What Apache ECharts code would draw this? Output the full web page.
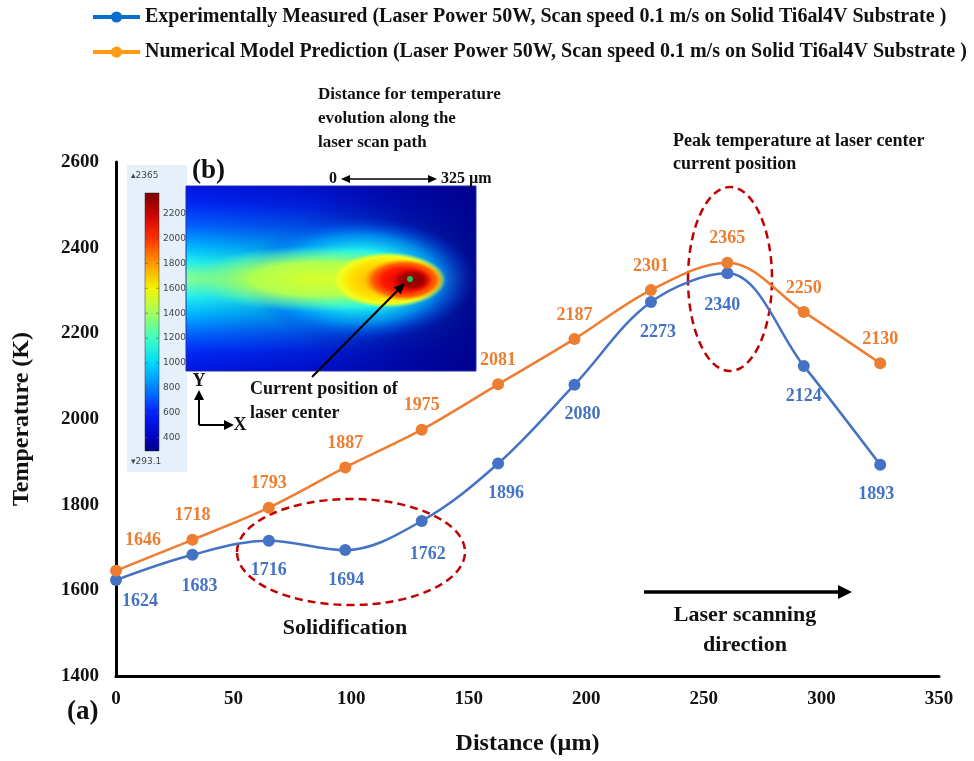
<!DOCTYPE html>
<html>
<head>
<meta charset="utf-8">
<script src="https://cdn.jsdelivr.net/npm/echarts@6/dist/echarts.min.js"></script>
<style>
  html, body { margin: 0; padding: 0; background: #fff; }
  #chart { width: 974px; height: 761px; }
</style>
</head>
<body>
<div id="chart"></div>
<script>
// distance along scan path (µm) and temperatures (K)
const distance = [0, 32.5, 65, 97.5, 130, 162.5, 195, 227.5, 260, 292.5, 325];
const measured = [1624, 1683, 1716, 1694, 1762, 1896, 2080, 2273, 2340, 2124, 1893];
const predicted = [1646, 1718, 1793, 1887, 1975, 2081, 2187, 2301, 2365, 2250, 2130];
const seriesNames = [
  'Experimentally Measured (Laser Power 50W, Scan speed 0.1 m/s on Solid Ti6al4V Substrate )',
  'Numerical Model Prediction (Laser Power 50W, Scan speed 0.1 m/s on Solid Ti6al4V Substrate )'
];
// inset colour bar
const colorbarTicks = [2200, 2000, 1800, 1600, 1400, 1200, 1000, 800, 600, 400];
const colorbarMax = 2365;
const colorbarMin = 293.1;

const SERIF = '"Liberation Serif", "Times New Roman", serif';
const BLUE = '#4472C4';
const ORANGE = '#ED7D31';

const chart = echarts.init(document.getElementById('chart'));

// small label nudges so numbers sit like the original
const blueShift = [[24, -9], [7, 2], [0, 0], [1, 0], [6, 3], [8, 0], [8, 0], [7, 0], [-5, 2], [0, 0], [-4, 0]];
const orangeShift = [[27, -6], [0, 0], [0, 0], [0, 0], [0, 0], [0, 0], [0, 0], [0, 0], [0, 0], [0, 0], [0, 0]];

function arrowHead(x, y, angle, len, half, color) {
  const c = Math.cos(angle), s = Math.sin(angle);
  return {
    type: 'polygon', silent: true,
    shape: { points: [[x, y], [x - len * c + half * s, y - len * s - half * c], [x - len * c - half * s, y - len * s + half * c]] },
    style: { fill: color }
  };
}
function arrow(x1, y1, x2, y2, width, len, half, both) {
  const ang = Math.atan2(y2 - y1, x2 - x1);
  const els = [{
    type: 'line', silent: true,
    shape: { x1: x1, y1: y1, x2: x2 - Math.cos(ang) * len * 0.8, y2: y2 - Math.sin(ang) * len * 0.8 },
    style: { stroke: '#000', lineWidth: width }
  }, arrowHead(x2, y2, ang, len, half, '#000')];
  if (both) {
    els[0].shape.x1 = x1 + Math.cos(ang) * len * 0.8;
    els[0].shape.y1 = y1 + Math.sin(ang) * len * 0.8;
    els.push(arrowHead(x1, y1, ang + Math.PI, len, half, '#000'));
  }
  return els;
}
function txt(x, y, text, size, opts) {
  opts = opts || {};
  return {
    type: 'text', silent: true, x: x, y: y,
    style: {
      text: text, font: (opts.weight || 'bold') + ' ' + size + 'px ' + (opts.family || SERIF),
      fill: opts.color || '#111',
      align: opts.align || 'left', textAlign: opts.align || 'left',
      verticalAlign: opts.va || 'middle', textVerticalAlign: opts.va || 'middle',
      lineHeight: opts.lh || size * 1.2
    }
  };
}
function glow(cx, cy, rx, ry, stops) {
  return {
    type: 'circle', silent: true, x: cx, y: cy, scaleX: rx / 50, scaleY: ry / 50,
    shape: { cx: 0, cy: 0, r: 50 },
    style: { fill: { type: 'radial', x: 0.5, y: 0.5, r: 0.5, colorStops: stops } }
  };
}
function ellipseMark(cx, cy, rx, ry) {
  return {
    type: 'ellipse', silent: true,
    shape: { cx: cx, cy: cy, rx: rx, ry: ry },
    style: { fill: null, stroke: '#C00000', lineWidth: 2.5, lineDash: [8, 5] }
  };
}

// inset (b): simulated temperature field
const inset = { x: 186, y: 186, w: 290, h: 185 };
const bar = { x: 145, y: 193, w: 14, h: 258 };
const barFrac = v => (colorbarMax - v) / (colorbarMax - colorbarMin);

const graphics = [
  { type: 'rect', silent: true, shape: { x: 127, y: 165, width: 60, height: 307 }, style: { fill: '#E6F0FA' } },
  {
    type: 'rect', silent: true, shape: { x: bar.x, y: bar.y, width: bar.w, height: bar.h },
    style: {
      fill: {
        type: 'linear', x: 0, y: 0, x2: 0, y2: 1, colorStops: [
          { offset: 0, color: '#7A0000' }, { offset: barFrac(2200), color: '#C80000' },
          { offset: barFrac(2000), color: '#FF3000' }, { offset: barFrac(1800), color: '#FF9800' },
          { offset: barFrac(1600), color: '#F4F400' }, { offset: barFrac(1400), color: '#A0FF60' },
          { offset: barFrac(1200), color: '#40FFC0' }, { offset: barFrac(1000), color: '#00D8FF' },
          { offset: barFrac(800), color: '#0080FF' }, { offset: barFrac(600), color: '#0020FF' },
          { offset: barFrac(400), color: '#0000C0' }, { offset: 1, color: '#000080' }
        ]
      }, stroke: '#333', lineWidth: 0.5
    }
  },
  txt(131, 176, '▴2365', 9, { weight: 'normal', family: '"DejaVu Sans", sans-serif', color: '#444' }),
  txt(131, 462, '▾293.1', 9, { weight: 'normal', family: '"DejaVu Sans", sans-serif', color: '#444' }),
  {
    type: 'rect', silent: true, shape: { x: inset.x, y: inset.y, width: inset.w, height: inset.h },
    style: {
      fill: {
        type: 'linear', x: 0, y: 0, x2: 0, y2: 1, colorStops: [
          { offset: 0, color: '#0014E0' }, { offset: 0.1, color: '#0028F4' },
          { offset: 0.22, color: '#0064FF' }, { offset: 0.33, color: '#00B8FF' },
          { offset: 0.41, color: '#20F0F0' }, { offset: 0.47, color: '#70FFA8' },
          { offset: 0.5, color: '#8CFF88' }, { offset: 0.53, color: '#70FFA8' },
          { offset: 0.6, color: '#20F0F0' }, { offset: 0.69, color: '#00B8FF' },
          { offset: 0.8, color: '#0064FF' }, { offset: 0.9, color: '#0028F4' },
          { offset: 1, color: '#0014E0' }
        ]
      }
    }
  },
  {
    type: 'rect', silent: true, shape: { x: inset.x, y: inset.y, width: inset.w, height: inset.h },
    style: {
      fill: {
        type: 'linear', x: 0, y: 0, x2: 1, y2: 0, colorStops: [
          { offset: 0, color: 'rgba(0,0,140,0)' }, { offset: 0.4, color: 'rgba(0,0,140,0.25)' },
          { offset: 0.75, color: 'rgba(0,0,140,0.75)' }, { offset: 1, color: 'rgba(0,0,140,0.97)' }
        ]
      }
    }
  },
  glow(360, 279, 115, 62, [
    { offset: 0, color: '#60FFB0' }, { offset: 0.45, color: '#20F0F0' },
    { offset: 0.7, color: 'rgba(0,170,255,0.75)' }, { offset: 1, color: 'rgba(0,60,255,0)' }
  ]),
  glow(318, 279, 132, 33, [
    { offset: 0, color: '#D8FF28' }, { offset: 0.5, color: '#B0FF50' },
    { offset: 0.8, color: 'rgba(110,255,150,0.5)' }, { offset: 1, color: 'rgba(60,255,200,0)' }
  ]),
  glow(388, 280, 58, 28, [
    { offset: 0, color: '#FFA000' }, { offset: 0.65, color: '#FFE000' },
    { offset: 0.85, color: '#F0FF20' }, { offset: 1, color: 'rgba(200,255,60,0)' }
  ]),
  glow(404, 280, 40, 21, [
    { offset: 0, color: '#E00000' }, { offset: 0.55, color: '#FF1800' },
    { offset: 0.8, color: '#FF6800' }, { offset: 1, color: 'rgba(255,150,0,0)' }
  ]),
  glow(412, 280, 20, 12, [
    { offset: 0, color: '#880000' }, { offset: 0.6, color: '#A80000' }, { offset: 1, color: 'rgba(220,0,0,0)' }
  ]),
  { type: 'rect', silent: true, shape: { x: inset.x, y: inset.y, width: inset.w, height: inset.h }, style: { fill: null, stroke: '#2030B0', lineWidth: 1 } },
  { type: 'circle', silent: true, shape: { cx: 410, cy: 279, r: 3 }, style: { fill: '#20C060' } },
  ...arrow(312, 377, 405, 283, 2, 11, 5),
  txt(250, 377, 'Current position of\nlaser center', 18, { va: 'top', lh: 24 }),
  txt(192, 171, '(b)', 27),
  txt(67, 712, '(a)', 27),
  txt(318, 83, 'Distance for temperature\nevolution along the\nlaser scan path', 17, { va: 'top', lh: 24 }),
  txt(333, 179, '0', 16, { align: 'center' }),
  ...arrow(341, 179, 437, 179, 1.5, 9, 4, true),
  txt(441, 179, '325 µm', 16),
  txt(673, 130, 'Peak temperature at laser center\ncurrent position', 18, { va: 'top', lh: 23 }),
  // axis icon
  ...arrow(199, 425, 199, 390, 2, 10, 5),
  ...arrow(199, 425, 234, 425, 2, 10, 5),
  txt(199, 381, 'Y', 18, { align: 'center' }),
  txt(240, 425, 'X', 18, { align: 'center' }),
  // annotations on the plot
  ellipseMark(351, 552, 114, 53),
  ellipseMark(730, 279, 42, 92),
  txt(345, 628, 'Solidification', 22, { align: 'center' }),
  ...arrow(644, 592, 852, 592, 3.5, 14, 7),
  txt(745, 600, 'Laser scanning\ndirection', 22, { align: 'center', va: 'top', lh: 30 })
];
colorbarTicks.forEach(v => {
  const y = bar.y + barFrac(v) * bar.h;
  graphics.push(txt(163, y, String(v), 9, { weight: 'normal', family: '"DejaVu Sans", sans-serif', color: '#444' }));
  graphics.push({ type: 'line', silent: true, shape: { x1: bar.x, y1: y, x2: bar.x + 3, y2: y }, style: { stroke: '#555', lineWidth: 0.6 } });
  graphics.push({ type: 'line', silent: true, shape: { x1: bar.x + bar.w - 3, y1: y, x2: bar.x + bar.w, y2: y }, style: { stroke: '#555', lineWidth: 0.6 } });
});

function makeData(values, shift) {
  return distance.map((d, i) => ({ value: [d, values[i]], label: { offset: shift[i] } }));
}

const option = {
  backgroundColor: '#fff',
  animation: false,
  legend: {
    orient: 'vertical',
    left: 86,
    top: 2,
    itemWidth: 47,
    itemHeight: 14,
    itemGap: 15,
    textStyle: { fontFamily: SERIF, fontWeight: 'bold', fontSize: 20, color: '#111' },
    data: [
      { name: seriesNames[0], itemStyle: { color: '#0A6FCB' }, lineStyle: { color: '#0A6FCB', width: 4 } },
      { name: seriesNames[1], itemStyle: { color: '#FF9A12' }, lineStyle: { color: '#FF9A12', width: 4 } }
    ]
  },
  grid: { left: 116, right: 35, top: 162, bottom: 85 },
  xAxis: {
    type: 'value', min: 0, max: 350, interval: 50,
    name: 'Distance (µm)', nameLocation: 'middle', nameGap: 56,
    nameTextStyle: { fontFamily: SERIF, fontWeight: 'bold', fontSize: 24, color: '#111' },
    axisLine: { lineStyle: { color: '#000', width: 3 } },
    axisTick: { show: false },
    splitLine: { show: false },
    axisLabel: { fontFamily: SERIF, fontWeight: 'bold', fontSize: 19, color: '#111', margin: 14 }
  },
  yAxis: {
    type: 'value', min: 1400, max: 2600, interval: 200,
    name: 'Temperature (K)', nameLocation: 'middle', nameGap: 82,
    nameTextStyle: { fontFamily: SERIF, fontWeight: 'bold', fontSize: 24, color: '#111' },
    axisLine: { show: true, lineStyle: { color: '#000', width: 3 } },
    axisTick: { show: false },
    splitLine: { show: false },
    axisLabel: {
      fontFamily: SERIF, fontWeight: 'bold', fontSize: 19, color: '#111', margin: 17,
      formatter: v => String(v)
    }
  },
  series: [
    {
      name: seriesNames[0], type: 'line', smooth: 0.35,
      data: makeData(measured, blueShift),
      symbol: 'circle', symbolSize: 12,
      lineStyle: { color: BLUE, width: 2.5 },
      itemStyle: { color: BLUE },
      label: {
        show: true, position: 'bottom', distance: 15,
        formatter: p => p.value[1],
        fontFamily: SERIF, fontWeight: 'bold', fontSize: 18, color: BLUE
      },
      z: 3
    },
    {
      name: seriesNames[1], type: 'line', smooth: 0.35,
      data: makeData(predicted, orangeShift),
      symbol: 'circle', symbolSize: 12,
      lineStyle: { color: ORANGE, width: 2.5 },
      itemStyle: { color: ORANGE },
      label: {
        show: true, position: 'top', distance: 9,
        formatter: p => p.value[1],
        fontFamily: SERIF, fontWeight: 'bold', fontSize: 18, color: ORANGE
      },
      z: 3
    }
  ],
  graphic: { elements: graphics }
};

chart.setOption(option);
</script>
</body>
</html>
